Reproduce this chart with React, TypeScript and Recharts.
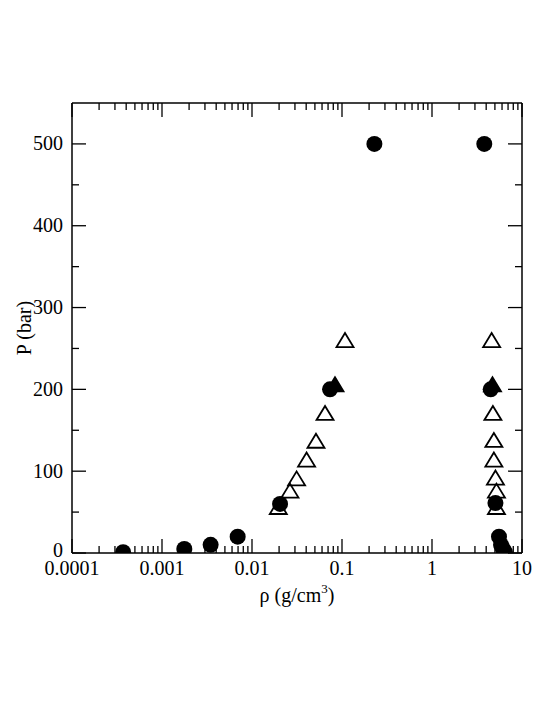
import React from "react";
import { ScatterChart, Scatter, XAxis, YAxis } from "recharts";

// Filled circles
const circleRho = [0.00037, 0.00177, 0.00347, 0.00693, 0.0205, 0.0736, 0.229, 3.81, 4.49, 5.07, 5.55, 5.85, 6.15, 6.47];
const circleP = [1, 5, 10, 20, 60, 200, 500, 500, 200, 61, 20, 10, 5, 1];
// Open triangles (left / right branches)
const triRhoLeft = [0.0196, 0.0264, 0.0313, 0.0404, 0.0514, 0.0648, 0.108];
const triPLeft = [55, 75, 90, 113, 136, 170, 259];
const triRhoRight = [5.2, 5.2, 5.07, 4.87, 4.87, 4.75, 4.6];
const triPRight = [55, 75, 91, 113, 137, 170, 259];
// Filled triangles
const fTriRho = [0.0836, 4.7];
const fTriP = [205, 205];

const xMajorTicks = [0.0001, 0.001, 0.01, 0.1, 1, 10];
const xMajorLabels = ["0.0001", "0.001", "0.01", "0.1", "1", "10"];
const yTicks = [0, 50, 100, 150, 200, 250, 300, 350, 400, 450, 500];

const xAllTicks: number[] = [];
xMajorTicks.forEach((t, i) => {
  xAllTicks.push(t);
  if (i < xMajorTicks.length - 1) {
    for (let m = 2; m <= 9; m++) xAllTicks.push(+(t * m).toPrecision(6));
  }
});

const toPts = (xs: number[], ys: number[]) => xs.map((x, i) => ({ x, y: ys[i] }));
const circles = toPts(circleRho, circleP);
const triangles = [...toPts(triRhoLeft, triPLeft), ...toPts(triRhoRight, triPRight)];
const filledTris = toPts(fTriRho, fTriP);

const FONT = "'Liberation Serif', 'DejaVu Serif', serif";

const majorIndex = (v: number) => xMajorTicks.findIndex((t) => Math.abs(t - v) / t < 1e-6);

const BottomTick = (props: any) => {
  const { x, y, payload } = props;
  const idx = majorIndex(payload.value);
  const major = idx >= 0;
  return (
    <g>
      <line x1={x} x2={x} y1={y} y2={y - (major ? 14 : 7)} stroke="#000" strokeWidth={1.3} />
      {major && (
        <text x={x} y={y + 22} textAnchor="middle" fontFamily={FONT} fontSize={20} fill="#000">
          {xMajorLabels[idx]}
        </text>
      )}
    </g>
  );
};

const TopTick = (props: any) => {
  const { x, y, payload } = props;
  const major = majorIndex(payload.value) >= 0;
  return <line x1={x} x2={x} y1={y} y2={y + (major ? 14 : 7)} stroke="#000" strokeWidth={1.3} />;
};

const LeftTick = (props: any) => {
  const { x, y, payload } = props;
  const v = payload.value;
  const major = v % 100 === 0;
  return (
    <g>
      <line x1={x} x2={x + (major ? 14 : 7)} y1={y} y2={y} stroke="#000" strokeWidth={1.3} />
      {major && (
        <text x={x - 9} y={v === 0 ? y + 4 : y + 6.5} textAnchor="end" fontFamily={FONT} fontSize={20} fill="#000">
          {v}
        </text>
      )}
    </g>
  );
};

const RightTick = (props: any) => {
  const { x, y, payload } = props;
  const major = payload.value % 100 === 0;
  return <line x1={x} x2={x - (major ? 14 : 7)} y1={y} y2={y} stroke="#000" strokeWidth={1.3} />;
};

const CircleShape = (props: any) => <circle cx={props.cx} cy={props.cy} r={8} fill="#000" />;
const OpenTri = (props: any) => {
  const { cx, cy } = props;
  return (
    <polygon
      points={`${cx},${cy - 8} ${cx - 8.5},${cy + 6} ${cx + 8.5},${cy + 6}`}
      fill="none"
      stroke="#000"
      strokeWidth={1.8}
    />
  );
};
const FilledTri = (props: any) => {
  const { cx, cy } = props;
  return (
    <polygon
      points={`${cx},${cy - 8} ${cx - 8.5},${cy + 6} ${cx + 8.5},${cy + 6}`}
      fill="#000"
      stroke="#000"
      strokeWidth={1.8}
    />
  );
};

const XLabel = (props: any) => {
  const { viewBox } = props;
  const cx = viewBox.x + viewBox.width / 2;
  return (
    <text x={cx} y={viewBox.y + 49} textAnchor="middle" fontFamily={FONT} fontSize={20} fill="#000">
      ρ (g/cm
      <tspan dy={-9} fontSize={13}>3</tspan>
      <tspan dy={9}>)</tspan>
    </text>
  );
};

const YLabel = (props: any) => {
  const { viewBox } = props;
  const cy = viewBox.y + viewBox.height / 2;
  const x = 16;
  return (
    <text
      x={x}
      y={cy}
      transform={`rotate(-90, ${x}, ${cy})`}
      textAnchor="middle"
      dominantBaseline="central"
      fontFamily={FONT}
      fontSize={20}
      fill="#000"
    >
      P (bar)
    </text>
  );
};

export default function App() {
  return (
    <div style={{ width: 537, height: 697 }}>
      <ScatterChart width={537} height={697} margin={{ top: 94, right: 22, bottom: 92, left: 0 }}>
        <XAxis
          xAxisId="bottom"
          dataKey="x"
          type="number"
          scale="log"
          domain={[0.0001, 10]}
          allowDataOverflow
          ticks={xAllTicks}
          interval={0}
          height={60}
          tickSize={0}
          tickMargin={0}
          tickLine={false}
          tick={<BottomTick />}
          axisLine={{ stroke: "#000", strokeWidth: 1.5 }}
          label={<XLabel />}
        />
        <XAxis
          xAxisId="top"
          orientation="top"
          dataKey="x"
          type="number"
          scale="log"
          domain={[0.0001, 10]}
          allowDataOverflow
          ticks={xAllTicks}
          interval={0}
          height={1}
          tickSize={0}
          tickMargin={0}
          tickLine={false}
          tick={<TopTick />}
          axisLine={{ stroke: "#000", strokeWidth: 1.5 }}
        />
        <YAxis
          yAxisId="left"
          dataKey="y"
          type="number"
          domain={[0, 550]}
          allowDataOverflow
          ticks={yTicks}
          interval={0}
          width={64}
          tickSize={0}
          tickMargin={0}
          tickLine={false}
          tick={<LeftTick />}
          axisLine={{ stroke: "#000", strokeWidth: 1.5 }}
          label={<YLabel />}
        />
        <YAxis
          yAxisId="right"
          orientation="right"
          dataKey="y"
          type="number"
          domain={[0, 550]}
          allowDataOverflow
          ticks={yTicks}
          interval={0}
          width={1}
          tickSize={0}
          tickMargin={0}
          tickLine={false}
          tick={<RightTick />}
          axisLine={{ stroke: "#000", strokeWidth: 1.5 }}
        />
        <Scatter data={triangles} xAxisId="bottom" yAxisId="left" shape={<OpenTri />} isAnimationActive={false} />
        <Scatter data={filledTris} xAxisId="bottom" yAxisId="left" shape={<FilledTri />} isAnimationActive={false} />
        <Scatter data={circles} xAxisId="bottom" yAxisId="left" shape={<CircleShape />} isAnimationActive={false} />
      </ScatterChart>
    </div>
  );
}
